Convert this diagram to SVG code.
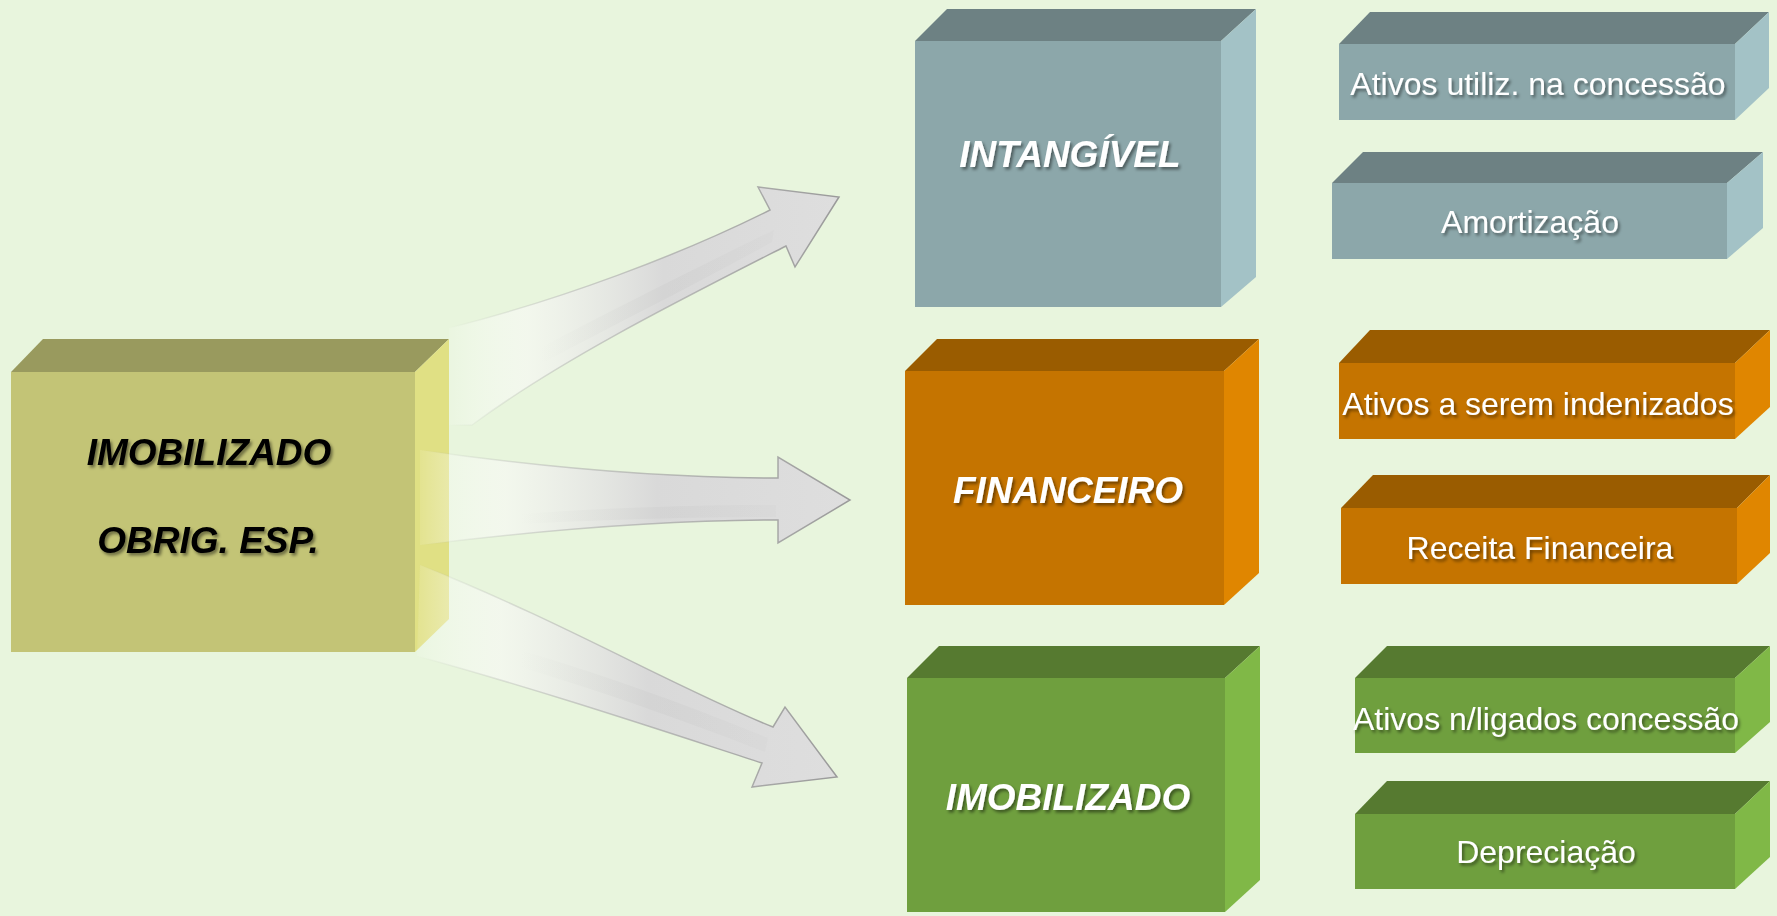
<svg xmlns="http://www.w3.org/2000/svg" width="1777" height="916" viewBox="0 0 1777 916">
<defs>
<style>
.big{font-family:"Liberation Sans",Arial,sans-serif;font-weight:bold;font-style:italic;font-size:37px;text-anchor:middle}
.small{font-family:"Liberation Sans",Arial,sans-serif;font-size:32px;text-anchor:middle;fill:#FFFFFF}
.w{fill:#FFFFFF}
.k{fill:#000000}
.arrow{fill:url(#ag);stroke:url(#as);stroke-width:1.5}
.streak{fill:url(#sg);stroke:none}
</style>
<filter id="ts" x="-10%" y="-30%" width="120%" height="160%">
<feDropShadow dx="2" dy="2.5" stdDeviation="1.5" flood-color="#000" flood-opacity="0.45"/>
</filter>
<linearGradient id="ag" x1="0" y1="0" x2="1" y2="0">
<stop offset="0" stop-color="#FFFFFF" stop-opacity="0.1"/>
<stop offset="0.2" stop-color="#F6F8F2" stop-opacity="0.75"/>
<stop offset="0.55" stop-color="#D9D9D9"/>
<stop offset="1" stop-color="#DEDEDE"/>
</linearGradient>
<linearGradient id="as" x1="0" y1="0" x2="1" y2="0">
<stop offset="0" stop-color="#A0A0A0" stop-opacity="0"/>
<stop offset="0.35" stop-color="#A8A8A8" stop-opacity="0.5"/>
<stop offset="1" stop-color="#9A9A9A"/>
</linearGradient>
<linearGradient id="sg" x1="0" y1="0" x2="1" y2="0">
<stop offset="0" stop-color="#B0B0B0" stop-opacity="0"/>
<stop offset="0.6" stop-color="#BBBBBB" stop-opacity="0.18"/>
<stop offset="1" stop-color="#C0C0C0" stop-opacity="0.1"/>
</linearGradient>
</defs>
<rect width="1777" height="916" fill="#E8F5DD"/>

<g id="node-origem">
<rect x="11" y="372" width="404" height="280" fill="#C3C476"/>
<polygon points="11,372 43,339 449,339 415,372" fill="#999A5E"/>
<polygon points="415,372 449,339 449,619 415,652" fill="#E0E084"/>
<text class="big k" x="209" y="465" filter="url(#ts)">IMOBILIZADO</text>
<text class="big k" x="208" y="553" filter="url(#ts)">OBRIG. ESP.</text>
</g>

<g id="connectors">
<path class="arrow" d="M 449 328 C 560 300 680 255 770 210 L 758 187 L 839 197 L 795 267 L 786 246 C 680 300 560 360 472 425 L 449 425 Z"/>
<path class="streak" d="M 540 364 C 620 322 700 282 772 242 L 774 230 C 700 266 620 306 540 348 Z"/>
<path class="arrow" d="M 420 450 C 560 470 680 478 778 478 L 778 457 L 850 500 L 778 543 L 778 520 C 680 520 560 528 420 545 Z"/>
<path class="streak" d="M 520 514 C 620 507 700 505 776 505 L 776 517 C 700 517 620 519 520 524 Z"/>
<path class="arrow" d="M 420 565 C 560 620 680 690 773 727 L 785 707 L 837 777 L 752 787 L 762 763 C 660 730 540 690 417 656 Z"/>
<path class="streak" d="M 520 650 C 620 680 700 710 768 738 L 765 752 C 700 727 620 697 520 667 Z"/>
</g>

<g id="node-intangivel">
<rect x="915" y="41" width="306" height="266" fill="#8CA7AA"/>
<polygon points="915,41 947,9 1256,9 1221,41" fill="#6D8183"/>
<polygon points="1221,41 1256,9 1256,277 1221,307" fill="#A3C2C6"/>
<text class="big w" x="1070" y="167" filter="url(#ts)">INTANGÍVEL</text>
</g>

<g id="node-financeiro">
<rect x="905" y="371" width="319" height="234" fill="#C57400"/>
<polygon points="905,371 937,339 1259,339 1224,371" fill="#9A5C00"/>
<polygon points="1224,371 1259,339 1259,573 1224,605" fill="#E08600"/>
<text class="big w" x="1068" y="503" filter="url(#ts)">FINANCEIRO</text>
</g>

<g id="node-imobilizado">
<rect x="907" y="678" width="318" height="234" fill="#6F9F3E"/>
<polygon points="907,678 939,646 1260,646 1225,678" fill="#567A30"/>
<polygon points="1225,678 1260,646 1260,880 1225,912" fill="#80B847"/>
<text class="big w" x="1068" y="810" filter="url(#ts)">IMOBILIZADO</text>
</g>

<g id="node-ativos-utiliz">
<rect x="1339" y="44" width="396" height="76" fill="#8CA7AA"/>
<polygon points="1339,44 1370,12 1769,12 1735,44" fill="#6D8183"/>
<polygon points="1735,44 1769,12 1769,88 1735,120" fill="#A3C2C6"/>
<text class="small" x="1538" y="95" filter="url(#ts)">Ativos utiliz. na concessão</text>
</g>

<g id="node-amortizacao">
<rect x="1332" y="183" width="395" height="76" fill="#8CA7AA"/>
<polygon points="1332,183 1363,152 1763,152 1727,183" fill="#6D8183"/>
<polygon points="1727,183 1763,152 1763,228 1727,259" fill="#A3C2C6"/>
<text class="small" x="1530" y="233" filter="url(#ts)">Amortização</text>
</g>

<g id="node-ativos-indenizados">
<rect x="1339" y="363" width="396" height="76" fill="#C57400"/>
<polygon points="1339,363 1370,330 1770,330 1735,363" fill="#9A5C00"/>
<polygon points="1735,363 1770,330 1770,407 1735,439" fill="#E08600"/>
<text class="small" x="1538" y="415" filter="url(#ts)">Ativos a serem indenizados</text>
</g>

<g id="node-receita">
<rect x="1341" y="508" width="396" height="76" fill="#C57400"/>
<polygon points="1341,508 1373,475 1770,475 1737,508" fill="#9A5C00"/>
<polygon points="1737,508 1770,475 1770,553 1737,584" fill="#E08600"/>
<text class="small" x="1540" y="559" filter="url(#ts)">Receita Financeira</text>
</g>

<g id="node-ativos-nligados">
<rect x="1355" y="678" width="380" height="75" fill="#6F9F3E"/>
<polygon points="1355,678 1387,646 1770,646 1735,678" fill="#567A30"/>
<polygon points="1735,678 1770,646 1770,722 1735,753" fill="#80B847"/>
<text class="small" x="1546" y="730" filter="url(#ts)">Ativos n/ligados concessão</text>
</g>

<g id="node-depreciacao">
<rect x="1355" y="814" width="380" height="75" fill="#6F9F3E"/>
<polygon points="1355,814 1387,781 1770,781 1735,814" fill="#567A30"/>
<polygon points="1735,814 1770,781 1770,857 1735,889" fill="#80B847"/>
<text class="small" x="1546" y="863" filter="url(#ts)">Depreciação</text>
</g>
</svg>
